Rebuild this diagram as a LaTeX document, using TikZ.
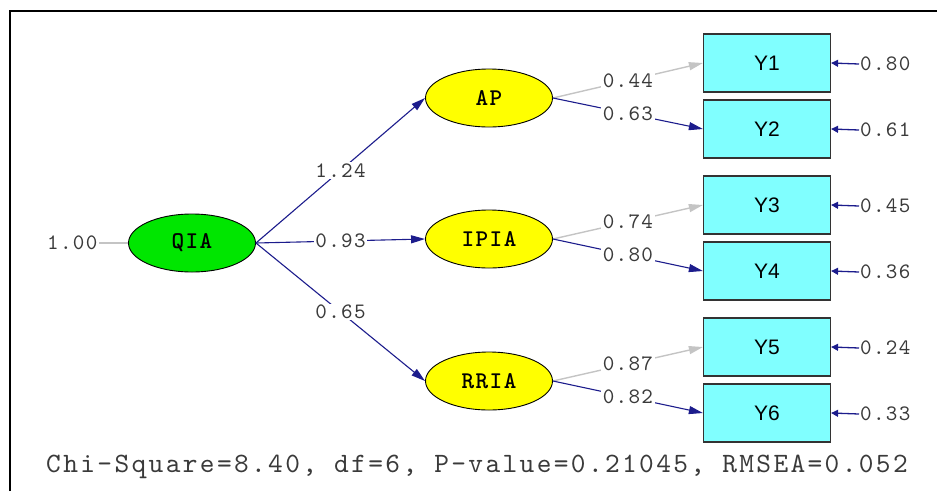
\documentclass[tikz,border=0pt]{standalone}
\usepackage{fontspec}
\setmainfont{Liberation Sans}
\newfontfamily\labfont{lmmono10-regular.otf}[LetterSpace=6]
\newfontfamily\fitfont{lmmono10-regular.otf}[LetterSpace=8.5]
\newfontfamily\latfont{lmmonolt10-bold.otf}[LetterSpace=6]
\usetikzlibrary{shapes.geometric,arrows.meta}
\definecolor{pathnavy}{HTML}{1C1C8C}
\definecolor{pathgray}{HTML}{C4C4C4}
\definecolor{latgreen}{HTML}{00E600}
\definecolor{latyellow}{HTML}{FFFF00}
\definecolor{obscyan}{HTML}{80FFFF}
\definecolor{numtext}{HTML}{3A3A3A}
\tikzset{
  latent/.style={ellipse, draw=black, line width=0.9pt, minimum width=127pt, minimum height=58pt, inner sep=0pt, font=\latfont\fontsize{24}{24}\selectfont},
  observed/.style={rectangle, draw=black!80, line width=1.2pt, fill=obscyan, minimum width=127pt, minimum height=58pt, inner sep=0pt, font=\fontsize{21}{21}\selectfont},
  coef/.style={fill=white, inner sep=1.5pt, text=numtext, font=\labfont\fontsize{22}{22}\selectfont},
  errlab/.style={anchor=west, inner sep=1pt, text=numtext, font=\labfont\fontsize{22}{22}\selectfont},
  navyarrow/.style={draw=pathnavy, line width=1.1pt, -{Triangle[length=14pt,width=8pt]}},
  grayarrow/.style={draw=pathgray, line width=1.4pt, -{Triangle[length=14pt,width=8pt]}},
  errarrow/.style={draw=pathnavy, line width=1.3pt, -{Triangle[length=7pt,width=7pt]}},
}
\begin{document}
\begin{tikzpicture}[x=1pt,y=-1pt]
\useasboundingbox (0,0) rectangle (937,491);
% frame
\draw[line width=2pt, black] (10,491) -- (10,11) -- (937,11);

% latent variables
\node[latent, fill=latgreen] (QIA) at (192,243) {QIA};
\node[latent, fill=latyellow] (AP) at (489,98) {AP};
\node[latent, fill=latyellow] (IPIA) at (489,239) {IPIA};
\node[latent, fill=latyellow] (RRIA) at (489,381) {RRIA};

% observed indicators
\node[observed] (Y1) at (767,63) {Y1};
\node[observed] (Y2) at (767,129) {Y2};
\node[observed] (Y3) at (767,205) {Y3};
\node[observed] (Y4) at (767,271) {Y4};
\node[observed] (Y5) at (767,347) {Y5};
\node[observed] (Y6) at (767,413) {Y6};

% variance of QIA
\node[coef, fill=none, anchor=east] (var) at (99,243) {1.00};
\draw[pathgray, line width=1.2pt] (var.east) -- (QIA.west);

% structural paths
\draw[navyarrow] (QIA.east) -- node[coef]{1.24} (AP.west);
\draw[navyarrow] (QIA.east) -- node[coef]{0.93} (IPIA.west);
\draw[navyarrow] (QIA.east) -- node[coef]{0.65} (RRIA.west);

% measurement paths
\draw[grayarrow] (AP.east) -- node[coef]{0.44} (Y1.west);
\draw[navyarrow] (AP.east) -- node[coef]{0.63} (Y2.west);
\draw[grayarrow] (IPIA.east) -- node[coef]{0.74} (Y3.west);
\draw[navyarrow] (IPIA.east) -- node[coef]{0.80} (Y4.west);
\draw[grayarrow] (RRIA.east) -- node[coef]{0.87} (Y5.west);
\draw[navyarrow] (RRIA.east) -- node[coef]{0.82} (Y6.west);

% error variances
\node[errlab] (e1) at (859,64) {0.80};
\node[errlab] (e2) at (859,130) {0.61};
\node[errlab] (e3) at (859,206) {0.45};
\node[errlab] (e4) at (859,272) {0.36};
\node[errlab] (e5) at (859,348) {0.24};
\node[errlab] (e6) at (859,414) {0.33};
\foreach \i in {1,...,6}{
  \draw[errarrow] (e\i.west) -- (Y\i.east);
}

% fit statistics
\node[anchor=west, inner sep=0pt, text=numtext, font=\fitfont\fontsize{28}{28}\selectfont] (fit) at (46,467) {Chi-Square=8.40, df=6, P-value=0.21045, RMSEA=0.052};
\end{tikzpicture}
\end{document}
